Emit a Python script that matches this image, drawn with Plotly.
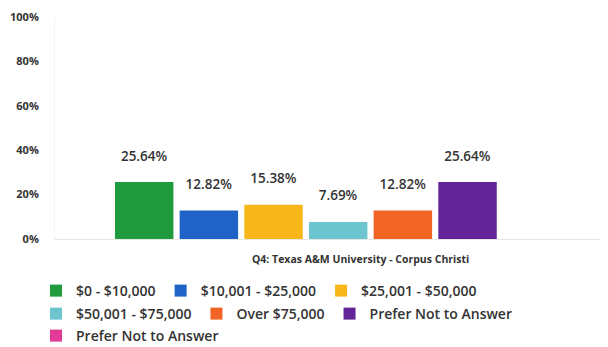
import plotly.graph_objects as go

category = ["Q4: Texas A&M University - Corpus Christi"]
series_names = ["$0 - $10,000", "$10,001 - $25,000", "$25,001 - $50,000",
                "$50,001 - $75,000", "Over $75,000", "Prefer Not to Answer",
                "Prefer Not to Answer"]
series_values = [25.64, 12.82, 15.38, 7.69, 12.82, 25.64, 0.0]
series_colors = ["#1f9a3c", "#1f63c6", "#f7b718", "#6cc5cf", "#f06424", "#622496", "#e03c97"]
legend_rows = ["legend", "legend", "legend", "legend2", "legend2", "legend2", "legend3"]
y_ticks = [0, 20, 40, 60, 80, 100]
y_tick_labels = ["0%", "20%", "40%", "60%", "80%", "100%"]

FONT = "Open Sans"
TXT = "#333333"

# the page body has an 8px default margin, so the figure is drawn 8px in
W, H = 600, 339
OFF = 8

fig = go.Figure()
for name, val, col, lg in zip(series_names, series_values, series_colors, legend_rows):
    label = (f"{val:.2f}%<br><span style='font-size:5px'> </span>" if val > 0 else "")
    fig.add_trace(go.Bar(
        x=category, y=[val], name=name, marker=dict(color=col, line=dict(width=0)),
        text=[label], textposition="outside", cliponaxis=False,
        textfont=dict(family=FONT, size=13.5, color=TXT, weight=600),
        legend=lg, hoverinfo="skip",
    ))

fig.add_annotation(
    text=category[0], xref="paper", yref="paper", x=0.556, y=-0.09,
    xanchor="center", yanchor="middle", showarrow=False,
    font=dict(family=FONT, size=10.5, color=TXT, weight=700),
)

leg_common = dict(orientation="h", xanchor="left", yanchor="middle",
                  xref="container", yref="container",
                  font=dict(family=FONT, size=14, color=TXT, weight=600),
                  bgcolor="rgba(0,0,0,0)", itemwidth=30, traceorder="normal")

fig.update_layout(
    width=W, height=H,
    margin=dict(l=55 - OFF, r=3, t=17 - OFF, b=108, autoexpand=False),
    paper_bgcolor="white", plot_bgcolor="white",
    barmode="group", bargap=0.177, bargroupgap=0.096,
    showlegend=True,
    legend=dict(x=(36 - OFF) / W, y=1 - (291 - OFF) / H, **leg_common),
    legend2=dict(x=(36 - OFF) / W, y=1 - (314 - OFF) / H, **leg_common),
    legend3=dict(x=(36 - OFF) / W, y=1 - (336 - OFF) / H, **leg_common),
    xaxis=dict(range=[-0.5149, 0.4851], showticklabels=False, showline=True,
               linecolor="#e6e6e6", linewidth=1, showgrid=False, zeroline=False,
               automargin=False),
    yaxis=dict(range=[0, 100], tickmode="array", tickvals=y_ticks, ticktext=y_tick_labels,
               showgrid=False, zeroline=False, showline=True, linecolor="#f3f3f3",
               ticks="", ticklabelstandoff=13, automargin=False,
               tickfont=dict(family=FONT, size=11, color=TXT, weight=700)),
)

fig.write_html("out.html")
